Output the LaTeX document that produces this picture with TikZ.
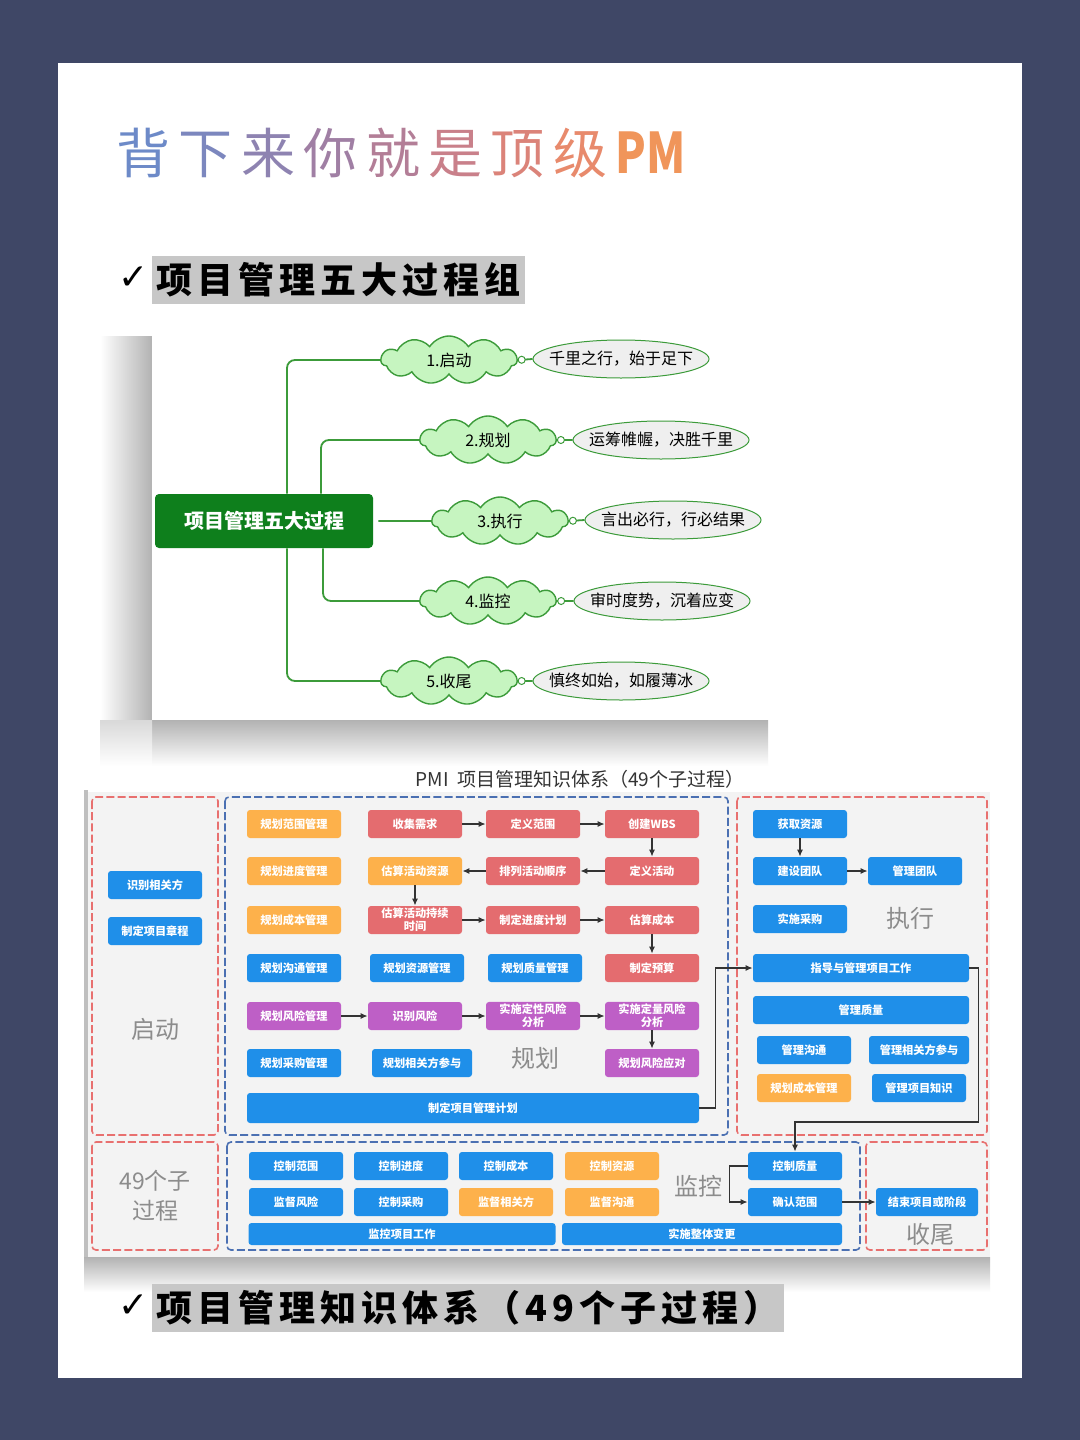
\documentclass[tikz,border=0pt]{standalone}
\usepackage{fontspec}
\usetikzlibrary{shapes.symbols,shapes.geometric,arrows.meta}
\setmainfont{Noto Sans CJK SC}
\newfontfamily\titlefont{Noto Sans CJK SC}
\newfontfamily\subfont[LetterSpace=14]{Noto Sans CJK SC}
\newfontfamily\symfont{DejaVu Sans}
% letra del titulo con su color y espacio
\newcommand{\letraTitulo}[2]{\textcolor{#1}{#2}\kern4.2pt}

\definecolor{navy}{HTML}{3F4766}
\definecolor{boxorange}{HTML}{FDB14B}
\definecolor{boxred}{HTML}{E46C6F}
\definecolor{boxblue}{HTML}{1F8FE9}
\definecolor{boxpurple}{HTML}{BE5FC6}
\definecolor{dashred}{HTML}{E8706F}
\definecolor{dashblue}{HTML}{4B70B2}
\definecolor{mmline}{HTML}{3C9B3A}
\definecolor{mmdark}{HTML}{0E7F1C}
\definecolor{cloudfill}{HTML}{C6F5C0}
\definecolor{ovalfill}{HTML}{EFEFEF}
\definecolor{zonafill}{HTML}{F3F3F3}
\definecolor{labelgray}{HTML}{8C8C8C}
\definecolor{tA}{HTML}{6D8AC8}
\definecolor{tB}{HTML}{7C87BE}
\definecolor{tC}{HTML}{8E83B1}
\definecolor{tD}{HTML}{A07FA4}
\definecolor{tE}{HTML}{B37E97}
\definecolor{tF}{HTML}{C9808A}
\definecolor{tG}{HTML}{DB8379}
\definecolor{tH}{HTML}{E88A6C}
\definecolor{tI}{HTML}{F0955A}

\begin{document}
\begin{tikzpicture}[
    x=0.5pt, y=-0.5pt,
    % Estilo para las cajas de procesos
    caja/.style={
        rounded corners=1.5pt,
        minimum width=47pt,
        minimum height=14pt,
        inner sep=1pt,
        align=center,
        text=white,
        font=\fontsize{5.6}{6.6}\selectfont\bfseries
    },
    cajaNaranja/.style={caja, fill=boxorange},
    cajaRoja/.style={caja, fill=boxred},
    cajaAzul/.style={caja, fill=boxblue},
    cajaMorada/.style={caja, fill=boxpurple},
    % Flechas entre procesos
    flechaProceso/.style={
        -{Latex[length=3.5pt, width=3pt]},
        line width=0.6pt,
        draw=black!80
    },
    % Zonas punteadas de cada grupo
    zonaRoja/.style={
        draw=dashred,
        dash pattern=on 4pt off 1.6pt,
        line width=0.8pt,
        rounded corners=2pt,
        fill=zonafill
    },
    zonaAzul/.style={zonaRoja, draw=dashblue},
    etiquetaZona/.style={
        text=labelgray,
        align=center,
        font=\fontsize{12}{13.5}\selectfont
    },
    % Mapa mental
    centro/.style={
        fill=mmdark,
        text=white,
        rounded corners=2pt,
        minimum width=109pt,
        minimum height=27pt,
        font=\fontsize{10}{12}\selectfont\bfseries
    },
    nube/.style={
        cloud,
        cloud puffs=11,
        cloud puff arc=115,
        aspect=2.8,
        draw=mmline,
        fill=cloudfill,
        line width=0.7pt,
        minimum width=68pt,
        minimum height=24pt,
        inner sep=0pt,
        font=\fontsize{8}{9}\selectfont
    },
    ovalo/.style={
        ellipse,
        draw=mmline,
        fill=ovalfill,
        line width=0.5pt,
        minimum width=88pt,
        minimum height=19pt,
        inner xsep=-8pt,
        inner ysep=0pt,
        font=\fontsize{8}{9}\selectfont
    },
    lineaVerde/.style={draw=mmline, line width=0.9pt, rounded corners=4pt},
    conector/.style={
        circle,
        draw=mmline,
        fill=white,
        line width=0.5pt,
        minimum size=3.5pt,
        inner sep=0pt
    },
    subtitulo/.style={
        fill=black!22,
        inner xsep=2pt,
        minimum height=22pt,
        font=\subfont\fontsize{18}{20}\selectfont\bfseries
    }
]
    \useasboundingbox (0,0) rectangle (1080,1440);

    % --- FONDO ---
    \fill[navy] (0,0) rectangle (1080,1440);
    \fill[white] (58,63) rectangle (1022,1378);

    % --- TITULO ---
    \node[anchor=west, inner sep=0pt, font=\titlefont\fontsize{27}{30}\selectfont] (titulo) at (116,153)
        {\letraTitulo{tA}{背}\letraTitulo{tB}{下}\letraTitulo{tC}{来}\letraTitulo{tD}{你}\letraTitulo{tE}{就}\letraTitulo{tF}{是}\letraTitulo{tG}{顶}\letraTitulo{tH}{级}\textcolor{tI}{\fontsize{28}{30}\selectfont\bfseries\scalebox{0.8}[1]{PM}}};

    % --- SUBTITULO 1 ---
    \node[anchor=east, inner sep=0pt, font=\symfont\fontsize{18}{20}\selectfont\bfseries] (check1) at (149,278) {✓};
    \node[subtitulo, anchor=west] (sub1) at (152,280) {项目管理五大过程组};

    % --- MAPA MENTAL ---
    % sombra
    \shade[left color=white, right color=black!30] (100,336) rectangle (152,720);
    \shade[top color=black!30, bottom color=white] (152,720) rectangle (768,766);
    \shade[top color=black!15, bottom color=white] (100,720) rectangle (152,766);
    \fill[white] (152,322) rectangle (768,720);

    \node[centro] (centro) at (264,521) {项目管理五大过程};

    \node[nube] (fase1) at (449,360) {1.启动};
    \node[nube] (fase2) at (488,440) {2.规划};
    \node[nube] (fase3) at (500,521) {3.执行};
    \node[nube] (fase4) at (488,601) {4.监控};
    \node[nube] (fase5) at (449,681) {5.收尾};

    \node[ovalo] (lema1) at (621,359) {千里之行，始于足下};
    \node[ovalo] (lema2) at (661,440) {运筹帷幄，决胜千里};
    \node[ovalo] (lema3) at (673,520) {言出必行，行必结果};
    \node[ovalo] (lema4) at (662,601) {审时度势，沉着应变};
    \node[ovalo] (lema5) at (621,681) {慎终如始，如履薄冰};

    % ramas desde el centro
    \draw[lineaVerde] ([xshift=11.5pt]centro.north) |- (fase1.west);
    \draw[lineaVerde] ([xshift=28.5pt]centro.north) |- (fase2.west);
    \draw[lineaVerde] ([xshift=2.5pt]centro.east) -- (fase3.west);
    \draw[lineaVerde] ([xshift=29.5pt]centro.south) |- (fase4.west);
    \draw[lineaVerde] ([xshift=11.5pt]centro.south) |- (fase5.west);

    % nubes -> lemas
    \draw[lineaVerde] (fase1.east) -- node[conector, pos=0.25] (punto1) {} (lema1.west);
    \draw[lineaVerde] (fase2.east) -- node[conector, pos=0.25] (punto2) {} (lema2.west);
    \draw[lineaVerde] (fase3.east) -- node[conector, pos=0.25] (punto3) {} (lema3.west);
    \draw[lineaVerde] (fase4.east) -- node[conector, pos=0.25] (punto4) {} (lema4.west);
    \draw[lineaVerde] (fase5.east) -- node[conector, pos=0.25] (punto5) {} (lema5.west);

    % --- DIAGRAMA PMI ---
    % sombra
    \shade[top color=black!30, bottom color=white] (84,1257) rectangle (990,1292);
    \fill[black!25] (84,790) rectangle (88,1257);
    \fill[white] (88,768) rectangle (990,1257);
    \fill[zonafill] (88,792) rectangle (990,1257);
    \node[font=\fontsize{9.5}{11}\selectfont, text=black!80] (pmi) at (580,779) {PMI\ \ 项目管理知识体系（49个子过程）};

    % zonas
    \draw[zonaRoja] (92,797) rectangle (218,1135);
    \draw[zonaAzul] (225,797) rectangle (728,1135);
    \draw[zonaRoja] (737,797) rectangle (987,1135);
    \draw[zonaRoja] (92,1142) rectangle (218,1250);
    \draw[zonaAzul] (227,1142) rectangle (860,1250);
    \draw[zonaRoja] (866,1142) rectangle (987,1250);

    \node[etiquetaZona] (lblInicio) at (155,1029) {启动};
    \node[etiquetaZona] (lblPlan) at (535,1058) {规划};
    \node[etiquetaZona] (lblEjec) at (910,918) {执行};
    \node[etiquetaZona, font=\fontsize{11.5}{15}\selectfont] (lblTotal) at (155,1196) {49个子\\过程};
    \node[etiquetaZona] (lblControl) at (698,1186) {监控};
    \node[etiquetaZona] (lblCierre) at (930,1234) {收尾};

    % --- INICIO ---
    \node[cajaAzul] (interesados) at (155,885) {识别相关方};
    \node[cajaAzul] (acta) at (155,931) {制定项目章程};

    % --- PLANIFICACION ---
    \node[cajaNaranja] (planAlcance) at (294,824) {规划范围管理};
    \node[cajaRoja] (reqs) at (415,824) {收集需求};
    \node[cajaRoja] (alcance) at (533,824) {定义范围};
    \node[cajaRoja] (wbs) at (652,824) {创建WBS};

    \node[cajaNaranja] (planCrono) at (294,871) {规划进度管理};
    \node[cajaNaranja] (recursos) at (415,871) {估算活动资源};
    \node[cajaRoja] (secuencia) at (533,871) {排列活动顺序};
    \node[cajaRoja] (actividades) at (652,871) {定义活动};

    \node[cajaNaranja] (planCosto) at (294,920) {规划成本管理};
    \node[cajaRoja] (duracion) at (415,920) {估算活动持续\\时间};
    \node[cajaRoja] (cronograma) at (533,920) {制定进度计划};
    \node[cajaRoja] (costos) at (652,920) {估算成本};

    \node[cajaAzul] (planComun) at (294,968) {规划沟通管理};
    \node[cajaAzul] (planRecursos) at (417,968) {规划资源管理};
    \node[cajaAzul] (planCalidad) at (535,968) {规划质量管理};
    \node[cajaRoja] (presupuesto) at (652,968) {制定预算};

    \node[cajaMorada] (riesgoPlan) at (294,1016) {规划风险管理};
    \node[cajaMorada] (riesgoId) at (415,1016) {识别风险};
    \node[cajaMorada] (cualitativo) at (533,1016) {实施定性风险\\分析};
    \node[cajaMorada] (cuantitativo) at (652,1016) {实施定量风险\\分析};

    \node[cajaAzul] (planCompras) at (294,1063) {规划采购管理};
    \node[cajaAzul, minimum width=50pt] (planInteres) at (422,1063) {规划相关方参与};
    \node[cajaMorada] (respuesta) at (652,1063) {规划风险应对};

    \node[cajaAzul, minimum width=226pt, minimum height=15pt] (planPM) at (473,1108) {制定项目管理计划};

    \draw[flechaProceso] (reqs) -- (alcance);
    \draw[flechaProceso] (alcance) -- (wbs);
    \draw[flechaProceso] (wbs) -- (actividades);
    \draw[flechaProceso] (actividades) -- (secuencia);
    \draw[flechaProceso] (secuencia) -- (recursos);
    \draw[flechaProceso] (recursos) -- (duracion);
    \draw[flechaProceso] (duracion) -- (cronograma);
    \draw[flechaProceso] (cronograma) -- (costos);
    \draw[flechaProceso] (costos) -- (presupuesto);
    \draw[flechaProceso] (riesgoPlan) -- (riesgoId);
    \draw[flechaProceso] (riesgoId) -- (cualitativo);
    \draw[flechaProceso] (cualitativo) -- (cuantitativo);
    \draw[flechaProceso] (cuantitativo) -- (respuesta);

    % --- EJECUCION ---
    \node[cajaAzul] (adquirir) at (800,824) {获取资源};
    \node[cajaAzul] (desarrollar) at (800,871) {建设团队};
    \node[cajaAzul] (dirigirEquipo) at (915,871) {管理团队};
    \node[cajaAzul] (compras) at (800,919) {实施采购};
    \node[cajaAzul, minimum width=108pt] (direccion) at (861,968) {指导与管理项目工作};
    \node[cajaAzul, minimum width=108pt] (calidad) at (861,1010) {管理质量};
    \node[cajaAzul] (comunic) at (804,1050) {管理沟通};
    \node[cajaAzul, minimum width=50pt] (interesEjec) at (919,1050) {管理相关方参与};
    \node[cajaNaranja] (costoEjec) at (804,1088) {规划成本管理};
    \node[cajaAzul] (conocimiento) at (919,1088) {管理项目知识};

    \draw[flechaProceso] (adquirir) -- (desarrollar);
    \draw[flechaProceso] (desarrollar) -- (dirigirEquipo);
    \draw[flechaProceso] (planPM.east) -- ++(16,0) |- (direccion.west);

    % --- MONITOREO Y CONTROL ---
    \node[cajaAzul] (ctlAlcance) at (296,1166) {控制范围};
    \node[cajaAzul] (ctlCrono) at (401,1166) {控制进度};
    \node[cajaAzul] (ctlCosto) at (506,1166) {控制成本};
    \node[cajaNaranja] (ctlRecursos) at (612,1166) {控制资源};
    \node[cajaAzul] (calidadCtl) at (795,1166) {控制质量};

    \node[cajaAzul] (ctlRiesgo) at (296,1202) {监督风险};
    \node[cajaAzul] (ctlCompras) at (401,1202) {控制采购};
    \node[cajaNaranja] (ctlInteres) at (506,1202) {监督相关方};
    \node[cajaNaranja] (ctlComunic) at (612,1202) {监督沟通};
    \node[cajaAzul] (alcanceVal) at (795,1202) {确认范围};

    \node[cajaAzul, minimum width=153.5pt, minimum height=11pt] (ctlTrabajo) at (402,1234) {监控项目工作};
    \node[cajaAzul, minimum width=140pt, minimum height=11pt] (cambios) at (702,1234) {实施整体变更};

    % --- CIERRE ---
    \node[cajaAzul, minimum width=51pt] (cierre) at (927,1202) {结束项目或阶段};

    \coordinate (codoCalidad) at (795,1122);
    \draw[flechaProceso] (direccion.east) -- ++(9,0) |- (codoCalidad) -- (calidadCtl.north);
    \draw[flechaProceso] (calidadCtl.west) -- ++(-18,0) |- (alcanceVal.west);
    \draw[flechaProceso] (alcanceVal) -- (cierre);

    % --- SUBTITULO 2 ---
    \node[anchor=east, inner sep=0pt, font=\symfont\fontsize{18}{20}\selectfont\bfseries] (check2) at (149,1306) {✓};
    \node[subtitulo, anchor=west] (sub2) at (152,1308) {项目管理知识体系（49个子过程）};

\end{tikzpicture}
\end{document}
